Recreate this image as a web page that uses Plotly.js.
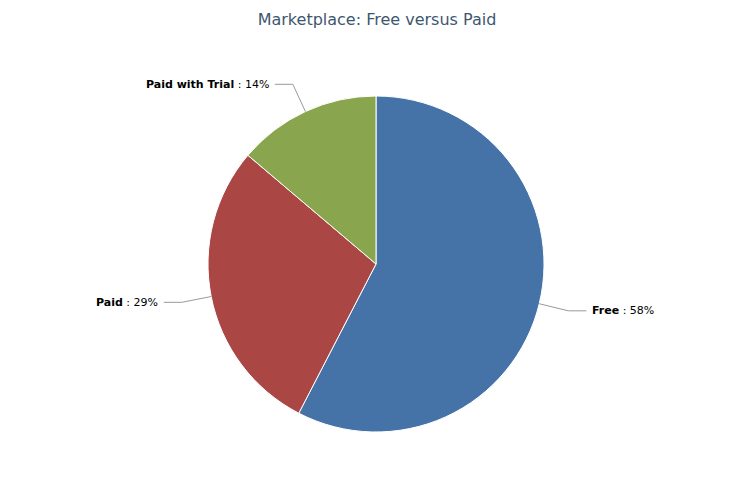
<!DOCTYPE html>
<html>
<head>
<meta charset="utf-8">
<script src="https://cdn.plot.ly/plotly-3.0.1.min.js"></script>
<style>html,body{margin:0;padding:0;background:#fff;}#chart{width:750px;height:500px;}</style>
</head>
<body>
<div id="chart"></div>
<script>
// Data
const categories = ["Free", "Paid", "Paid with Trial"];
const shares = [57.6, 28.6, 13.8];
const colors = ["#4572A7", "#AA4643", "#89A54E"];

// Geometry (pixels in the 750x500 page)
const W = 750, H = 500;
const cx = 376, cy = 264, R = 168;

const total = shares.reduce((a, b) => a + b, 0);
const shapes = [];
const annotations = [];
let start = 0;
shares.forEach((v, i) => {
  const frac = v / total;
  const mid = (start + frac / 2) * 2 * Math.PI;
  start += frac;
  const sx = Math.sin(mid), sy = -Math.cos(mid);
  const right = sx >= 0;
  const p0 = [cx + sx * R, cy + sy * R];
  const p1 = [cx + sx * (R + 30), cy + sy * (R + 30)];
  const p2 = [p1[0] + (right ? 18 : -18), p1[1]];
  const toP = p => [p[0] / W, 1 - p[1] / H];
  [[p0, p1], [p1, p2]].forEach(([a, b]) => {
    const A = toP(a), B = toP(b);
    shapes.push({type: "line", xref: "paper", yref: "paper",
      x0: A[0], y0: A[1], x1: B[0], y1: B[1],
      line: {color: "#9a9a9a", width: 1}});
  });
  const pct = Math.round(frac * 100);
  const L = toP([p2[0] + (right ? 4 : -4), p2[1]]);
  annotations.push({xref: "paper", yref: "paper", x: L[0], y: L[1],
    xanchor: right ? "left" : "right", yanchor: "middle", showarrow: false,
    text: "<b>" + categories[i] + "</b> : " + pct + "%",
    font: {family: "DejaVu Sans, Verdana, sans-serif", size: 11, color: "#000"}});
});

const trace = {
  type: "pie",
  labels: categories,
  values: shares,
  sort: false,
  direction: "clockwise",
  rotation: 0,
  textinfo: "none",
  hoverinfo: "label+percent",
  marker: {colors: colors, line: {color: "#ffffff", width: 1}},
  domain: {x: [(cx - R) / W, (cx + R) / W], y: [1 - (cy + R) / H, 1 - (cy - R) / H]},
  showlegend: false
};

const layout = {
  width: W, height: H,
  margin: {l: 0, r: 0, t: 0, b: 0},
  paper_bgcolor: "#ffffff",
  title: {text: "Marketplace: Free versus Paid", x: 377 / W, xanchor: "center",
    y: 1 - 19 / H, yanchor: "middle", yref: "container",
    font: {family: "DejaVu Sans, Verdana, sans-serif", size: 16, color: "#3E576F"}},
  shapes: shapes,
  annotations: annotations
};

Plotly.newPlot("chart", [trace], layout, {displayModeBar: false, staticPlot: true});
</script>
</body>
</html>
